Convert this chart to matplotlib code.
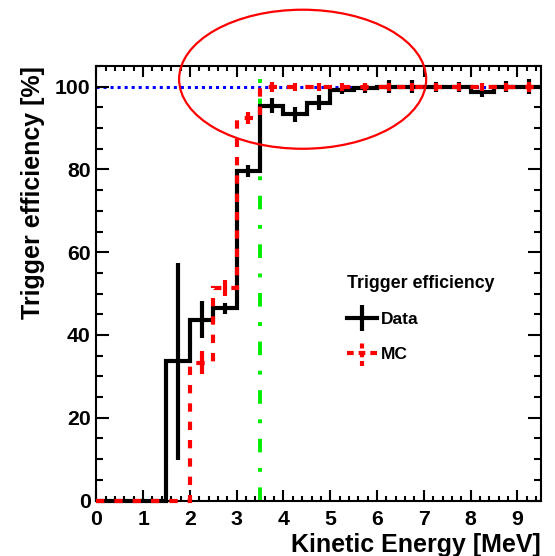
import numpy as np
import matplotlib
matplotlib.use("Agg")
import matplotlib.pyplot as plt
from matplotlib.patches import Ellipse
from matplotlib.legend_handler import HandlerErrorbar
from matplotlib.ticker import MultipleLocator

# ============================================================
# Datos (eficiencia de trigger en %)
# ============================================================

energy_edges = [0.0, 0.5, 1.0, 1.5, 2.0, 2.5, 3.0, 3.5, 4.0, 4.5, 5.0,
                5.5, 6.0, 6.5, 7.0, 7.5, 8.0, 8.5, 9.0, 9.5]

data_eff = [0, 0, 0, 33.6, 43.7, 46.4, 79.6, 95.4, 93.3, 96.1,
            99.1, 99.6, 100, 100, 100, 100, 98.6, 100, 100]
data_err = [0, 0, 0, 23.7, 4.5, 1.3, 1.4, 1.8, 1.9, 1.8,
            0.9, 1.2, 1.5, 1.5, 1.2, 1.2, 1.0, 1.3, 1.8]

mc_eff = [0, 0, 0, 0, 33.3, 51.4, 92.5, 100, 100, 100,
          100, 100, 100, 100, 100, 100, 100, 100, 100]
mc_err = [0, 0, 0, 0, 2.8, 2.0, 1.5, 1.2, 1.0, 1.0,
          1.0, 1.0, 1.0, 1.0, 1.0, 1.0, 1.0, 1.0, 1.2]

threshold_mev = 3.5
full_eff = 100

plt.rcParams["font.family"] = ["Liberation Sans", "DejaVu Sans"]
plt.rcParams["font.weight"] = "bold"

edges = np.array(energy_edges)
centers = 0.5 * (edges[:-1] + edges[1:])
data_eff = np.array(data_eff)
mc_eff = np.array(mc_eff)

fig = plt.figure(figsize=(5.55, 5.56), dpi=100)
ax = fig.add_axes([0.1735, 0.0998, 0.8009, 0.7815])

# linea de referencia 100 %
ax.axhline(full_eff, color="blue", lw=2.2, ls=(0, (1, 1.3)), zorder=1)
# umbral
ax.axvline(threshold_mev, color="#00ee00", lw=2.8,
           ls=(0, (3.5, 4, 1, 4)), zorder=1.5)

# Data
ax.stairs(data_eff, edges, color="black", lw=3, baseline=None,
          clip_on=False, zorder=2)
m = data_eff > 0
ax.errorbar(centers[m], data_eff[m], yerr=np.array(data_err)[m], fmt="none",
            ecolor="black", elinewidth=3, capsize=0, zorder=2)

# MC
ax.stairs(mc_eff, edges, color="red", lw=3, baseline=None,
          ls=(0, (2, 2.4)), clip_on=False, zorder=3)
m = mc_eff > 0
ax.errorbar(centers[m], mc_eff[m], yerr=np.array(mc_err)[m], fmt="none",
            ecolor="red", elinewidth=3, capsize=0, zorder=3)

# elipse de resaltado
ax.add_patch(Ellipse((4.41, 101.8), 5.28, 33.6, fill=False, ec="red",
                     lw=1.6, clip_on=False, zorder=4))

ax.set_xlim(0, 9.5)
ax.set_ylim(0, 105)

ax.xaxis.set_major_locator(MultipleLocator(1))
ax.xaxis.set_minor_locator(MultipleLocator(0.2))
ax.yaxis.set_major_locator(MultipleLocator(20))
ax.yaxis.set_minor_locator(MultipleLocator(5))

ax.tick_params(which="both", direction="in", top=True, right=True,
               width=1.5, labelsize=15.3)
ax.tick_params(axis="x", which="major", length=8, pad=6.5)
ax.tick_params(axis="x", which="minor", length=3.8)
ax.tick_params(axis="y", which="major", length=9.5, pad=4)
ax.tick_params(axis="y", which="minor", length=4.8)
for sp in ax.spines.values():
    sp.set_linewidth(1.5)

ax.set_xlabel("Kinetic Energy [MeV]", fontsize=18, fontweight="bold",
              loc="right", labelpad=3)
ax.set_ylabel("Trigger efficiency [%]", fontsize=18, fontweight="bold",
              loc="top", labelpad=7)

# leyenda (proxies tipo errorbar para dibujar la cruz)
data_h = ax.errorbar([np.nan], [np.nan], yerr=[1], color="black", lw=3,
                     elinewidth=3, capsize=0)
mc_h = ax.errorbar([np.nan], [np.nan], yerr=[1], color="red", lw=3,
                   ls=(0, (1.6, 1.2)), elinewidth=3, capsize=0)
mc_h[2][0].set_linestyle((0, (1.2, 0.9)))
leg = ax.legend([data_h, mc_h], ["Data", "MC"], title="Trigger efficiency",
                handler_map={type(data_h): HandlerErrorbar(yerr_size=0.75)},
                loc="upper left", bbox_to_anchor=(0.528, 0.555),
                frameon=False, prop={"weight": "bold", "size": 12.5},
                title_fontproperties={"weight": "bold", "size": 12.8},
                handlelength=1.75, handletextpad=0.25, labelspacing=1.15,
                alignment="left")

fig.savefig("out.png", dpi=100)
